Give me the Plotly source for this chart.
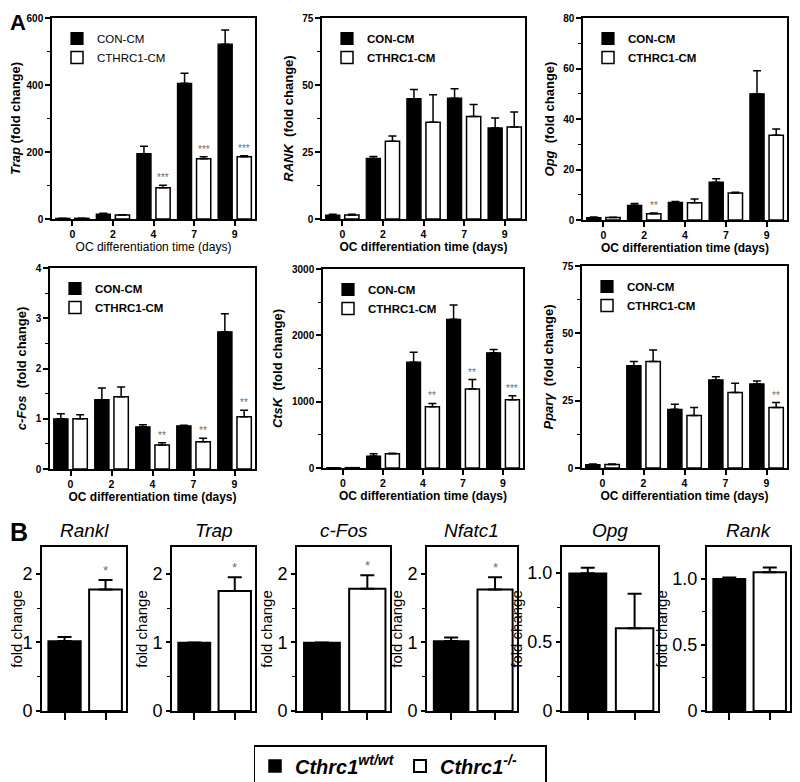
import plotly.graph_objects as go

W, H = 800, 782
S = 8  # page body offset of the figure, compensated so elements land at reference pixels
FONT = "Arial, Liberation Sans, sans-serif"

# ---------------- Panel A data ----------------
days = ["0", "2", "4", "7", "9"]

trap_con = [2, 15, 195, 405, 522]
trap_con_err = [0.5, 2, 22, 30, 42]
trap_cth = [2, 12, 93, 180, 186]
trap_cth_err = [0.5, 1, 8, 6, 3]
trap_sig = ["", "", "***", "***", "***"]

rank_con = [1.5, 22.6, 44.9, 45.1, 34.0]
rank_con_err = [0.3, 0.7, 3.4, 3.5, 3.7]
rank_cth = [1.5, 29.0, 36.1, 38.2, 34.3]
rank_cth_err = [0.3, 2.0, 10.3, 4.5, 5.6]
rank_sig = ["", "", "", "", ""]

opg_con = [1.0, 5.8, 7.0, 15.0, 50.0]
opg_con_err = [0.2, 0.7, 0.3, 1.3, 9.1]
opg_cth = [1.0, 2.5, 6.8, 10.7, 33.6]
opg_cth_err = [0.1, 0.3, 1.5, 0.3, 2.4]
opg_sig = ["", "**", "", "", ""]

cfos_con = [1.0, 1.38, 0.84, 0.86, 2.73]
cfos_con_err = [0.1, 0.23, 0.04, 0.01, 0.36]
cfos_cth = [1.0, 1.44, 0.48, 0.54, 1.04]
cfos_cth_err = [0.08, 0.19, 0.04, 0.07, 0.13]
cfos_sig = ["", "", "**", "**", "**"]

ctsk_con = [5, 180, 1595, 2242, 1737]
ctsk_con_err = [0, 35, 150, 217, 51]
ctsk_cth = [5, 215, 924, 1192, 1030]
ctsk_cth_err = [0, 8, 50, 141, 60]
ctsk_sig = ["", "", "**", "**", "***"]

ppar_con = [1.3, 38.0, 21.8, 32.7, 31.2]
ppar_con_err = [0.2, 1.5, 1.9, 1.2, 1.1]
ppar_cth = [1.3, 39.5, 19.5, 28.0, 22.5]
ppar_cth_err = [0.2, 4.3, 3.0, 3.5, 1.8]
ppar_sig = ["", "", "", "", "**"]

series_names = ["CON-CM", "CTHRC1-CM"]
x_title = "OC differentiation time (days)"

# ---------------- Panel B data ----------------
b_genes = ["Rankl", "Trap", "c-Fos", "Nfatc1", "Opg", "Rank"]
b_wt = [1.02, 1.0, 1.0, 1.02, 1.0, 1.0]
b_wt_err = [0.06, 0.0, 0.0, 0.05, 0.04, 0.01]
b_ko = [1.77, 1.75, 1.78, 1.77, 0.60, 1.05]
b_ko_err = [0.14, 0.20, 0.20, 0.18, 0.25, 0.035]
b_sig = ["*", "*", "*", "*", "", ""]
b_names = ["<b><i>Cthrc1<sup>wt/wt</sup></i></b>", "<b><i>Cthrc1<sup>-/-</sup></i></b>"]


# ---------------- layout helpers (reference pixel coords -> paper) ----------------
def px(x):
    return (x - S) / W


def py(y):
    return 1 - (y - S) / H


def dx(a, b):
    return [px(a), px(b)]


def dy(top, bot):
    return [py(bot), py(top)]


a_panels = [
    dict(ylab="<i>Trap</i> (fold change)", con=trap_con, ce=trap_con_err, cth=trap_cth, te=trap_cth_err,
         sig=trap_sig, rng=[0, 600], dt=200, mdt=100, xp=(52, 255), yp=(18, 219), bold=False),
    dict(ylab="<i>RANK</i>  (fold change)", con=rank_con, ce=rank_con_err, cth=rank_cth, te=rank_cth_err,
         sig=rank_sig, rng=[0, 75], dt=25, mdt=12.5, xp=(322, 525), yp=(18, 219), bold=True),
    dict(ylab="<i>Opg</i>  (fold change)", con=opg_con, ce=opg_con_err, cth=opg_cth, te=opg_cth_err,
         sig=opg_sig, rng=[0, 80], dt=20, mdt=10, xp=(583, 787), yp=(18, 220), bold=True),
    dict(ylab="<i>c-Fos</i>  (fold change)", con=cfos_con, ce=cfos_con_err, cth=cfos_cth, te=cfos_cth_err,
         sig=cfos_sig, rng=[0, 4], dt=1, mdt=0.5, xp=(50, 255), yp=(268, 469), bold=True),
    dict(ylab="<i>CtsK</i>  (fold change)", con=ctsk_con, ce=ctsk_con_err, cth=ctsk_cth, te=ctsk_cth_err,
         sig=ctsk_sig, rng=[0, 3000], dt=1000, mdt=500, xp=(323, 523), yp=(269, 468), bold=True),
    dict(ylab="<i>Pparγ</i>  (fold change)", con=ppar_con, ce=ppar_con_err, cth=ppar_cth, te=ppar_cth_err,
         sig=ppar_sig, rng=[0, 75], dt=25, mdt=12.5, xp=(582, 787), yp=(266, 468), bold=True),
]

b_x = [(42, 126), (172, 255), (297, 390), (427, 517), (562, 658), (707, 790)]
b_rng = [[0, 2.39], [0, 2.39], [0, 2.39], [0, 2.39], [0, 1.19], [0, 1.24]]
b_tickvals = [[0, 1, 2]] * 4 + [[0, 0.5, 1.0]] * 2
b_ticktext = [["0", "1", "2"]] * 4 + [["0", "0.5", "1.0"]] * 2
b_minor = [0.5, 0.5, 0.5, 0.5, 0.25, 0.25]

fig = go.Figure()
annotations = []
layout = {}

BW = 0.35
for i, p in enumerate(a_panels):
    k = i + 1
    xa, ya = f"x{k}", f"y{k}"
    leg = "legend" if k == 1 else f"legend{k}"
    wt = "bold" if p["bold"] else "normal"
    fig.add_trace(go.Bar(
        x=days, y=p["con"], name=series_names[0], xaxis=xa, yaxis=ya, legend=leg,
        width=BW, offset=-0.41,
        marker=dict(color="black", line=dict(color="black", width=1.2)),
        error_y=dict(type="data", array=p["ce"], arrayminus=[0] * len(days), symmetric=False,
                     color="black", thickness=1.5, width=4),
    ))
    fig.add_trace(go.Bar(
        x=days, y=p["cth"], name=series_names[1], xaxis=xa, yaxis=ya, legend=leg,
        width=BW, offset=0.06,
        marker=dict(color="white", line=dict(color="black", width=1.5)),
        error_y=dict(type="data", array=p["te"], arrayminus=[0] * len(days), symmetric=False,
                     color="black", thickness=1.5, width=4),
    ))
    for j, s in enumerate(p["sig"]):
        if s:
            annotations.append(dict(
                x=j + 0.235, y=p["cth"][j] + p["te"][j], xref=xa, yref=ya, text=s,
                showarrow=False, yanchor="bottom", yshift=0,
                font=dict(family=FONT, size=10, color="#6e6e6e")))
    x0, x1 = p["xp"]
    t0, t1 = p["yp"]
    layout[f"xaxis{k}"] = dict(
        domain=dx(x0, x1), anchor=ya, type="category", range=[-0.5, 4.5], automargin=False,
        showline=True, linecolor="black", linewidth=1.5, mirror=True,
        ticks="outside", ticklen=5, tickwidth=1.5, tickcolor="black",
        tickfont=dict(family=FONT, size=10.5, color="black", weight="bold"),
        title=dict(text=x_title, standoff=2,
                   font=dict(family=FONT, size=12, color="black", weight=wt)),
        showgrid=False, zeroline=False, fixedrange=True)
    layout[f"yaxis{k}"] = dict(
        domain=dy(t0, t1), anchor=xa, range=p["rng"], dtick=p["dt"], tick0=0, automargin=False,
        showline=True, linecolor="black", linewidth=1.5, mirror=True,
        ticks="outside", ticklen=5, tickwidth=1.5, tickcolor="black",
        minor=dict(dtick=p["mdt"], tick0=0, ticks="outside", ticklen=3, tickwidth=1.2, tickcolor="black"),
        tickfont=dict(family=FONT, size=10, color="black", weight="bold"),
        title=dict(text=p["ylab"], standoff=6,
                   font=dict(family=FONT, size=13, color="black", weight="bold")),
        showgrid=False, zeroline=False, fixedrange=True)
    layout[leg] = dict(
        x=px(x0 + 5), y=py(t0 + 6), xanchor="left", yanchor="top",
        bgcolor="rgba(0,0,0,0)", borderwidth=0, tracegroupgap=0,
        font=dict(family=FONT, size=11.5, color="black", weight=wt))

# ---------------- Panel B ----------------
for i, g in enumerate(b_genes):
    k = 7 + i
    xa, ya = f"x{k}", f"y{k}"
    fig.add_trace(go.Bar(
        x=[0], y=[b_wt[i]], name=b_names[0], xaxis=xa, yaxis=ya, legend="legend7",
        showlegend=(i == 0), width=0.8, offset=-0.4,
        marker=dict(color="black", line=dict(color="black", width=1.5)),
        error_y=dict(type="data", array=[b_wt_err[i]], arrayminus=[0], symmetric=False,
                     color="black", thickness=2, width=7),
    ))
    fig.add_trace(go.Bar(
        x=[1], y=[b_ko[i]], name=b_names[1], xaxis=xa, yaxis=ya, legend="legend7",
        showlegend=(i == 0), width=0.8, offset=-0.4,
        marker=dict(color="white", line=dict(color="black", width=2)),
        error_y=dict(type="data", array=[b_ko_err[i]], arrayminus=[0], symmetric=False,
                     color="black", thickness=2, width=7),
    ))
    if b_sig[i]:
        annotations.append(dict(
            x=1, y=b_ko[i] + b_ko_err[i], xref=xa, yref=ya, text=b_sig[i], showarrow=False,
            yanchor="bottom", font=dict(family=FONT, size=13, color="#6e6e6e")))
    x0, x1 = b_x[i]
    annotations.append(dict(
        x=px((x0 + x1) / 2), y=py(530), xref="paper", yref="paper", text=f"<i>{g}</i>",
        showarrow=False, xanchor="center", yanchor="middle",
        font=dict(family=FONT, size=19, color="black")))
    layout[f"xaxis{k}"] = dict(
        domain=dx(x0, x1), anchor=ya, range=[-0.55, 1.5], tickvals=[0, 1], showticklabels=False,
        automargin=False,
        showline=True, linecolor="black", linewidth=2, mirror=True,
        ticks="outside", ticklen=7, tickwidth=1.5, tickcolor="black",
        showgrid=False, zeroline=False, fixedrange=True)
    layout[f"yaxis{k}"] = dict(
        domain=dy(547, 711), anchor=xa, range=b_rng[i], automargin=False,
        tickvals=b_tickvals[i], ticktext=b_ticktext[i],
        showline=True, linecolor="black", linewidth=2, mirror=True,
        ticks="outside", ticklen=4, tickwidth=1.5, tickcolor="black",
        minor=dict(dtick=b_minor[i], tick0=0, ticks="outside", ticklen=3, tickwidth=1.2, tickcolor="black"),
        tickfont=dict(family=FONT, size=18, color="black"),
        title=dict(text="fold change", standoff=1,
                   font=dict(family=FONT, size=15, color="black")),
        showgrid=False, zeroline=False, fixedrange=True)

layout["legend7"] = dict(
    x=px(400), y=py(745), xanchor="center", yanchor="top", orientation="h",
    bgcolor="white", bordercolor="black", borderwidth=1.5, entrywidth=100,
    font=dict(family=FONT, size=20, color="black"))

annotations.append(dict(x=px(8), y=py(8), xref="paper", yref="paper", text="<b>A</b>",
                        showarrow=False, xanchor="left", yanchor="top",
                        font=dict(family=FONT, size=22, color="black")))
annotations.append(dict(x=px(8), y=py(516), xref="paper", yref="paper", text="<b>B</b>",
                        showarrow=False, xanchor="left", yanchor="top",
                        font=dict(family=FONT, size=25, color="black")))

fig.update_layout(
    width=W, height=H, margin=dict(l=0, r=0, t=0, b=0, autoexpand=False),
    paper_bgcolor="white", plot_bgcolor="white",
    barmode="group", showlegend=True, annotations=annotations,
    font=dict(family=FONT, color="black"),
    **layout)

fig.write_html("out.html")
